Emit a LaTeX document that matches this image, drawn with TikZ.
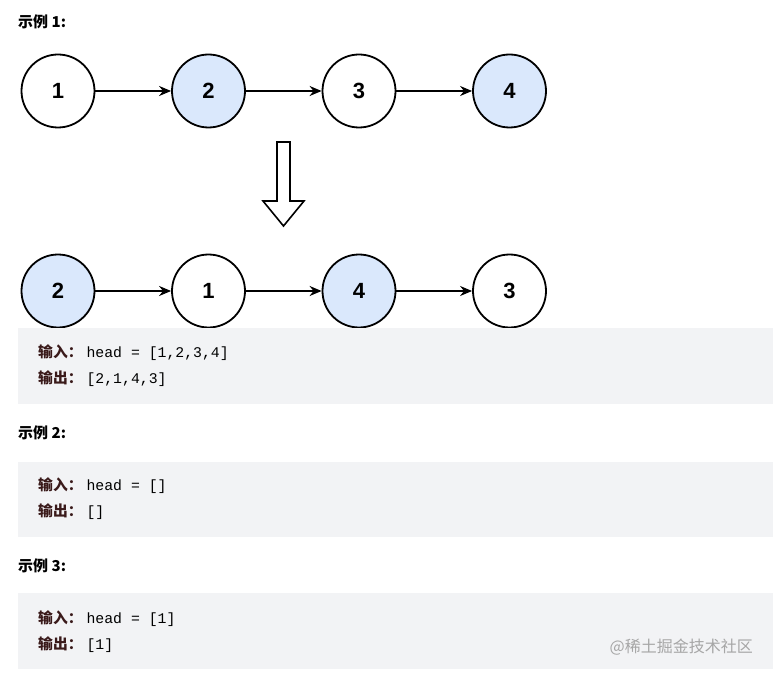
\documentclass[tikz,border=0pt]{standalone}
\usepackage{fontspec}
\setmainfont{Liberation Sans}
\setmonofont{Liberation Mono}
\newfontfamily\cjk{Noto Sans CJK SC}
\usetikzlibrary{positioning,arrows.meta}
\definecolor{nodeblue}{HTML}{DAE8FC}
\definecolor{codebg}{HTML}{F2F3F5}
\definecolor{inkred}{HTML}{3A1A1A}
\tikzset{
  lnode/.style={circle,draw,line width=1.8pt,minimum size=73pt,inner sep=0pt,
    font=\fontsize{22}{22}\selectfont\bfseries},
  hl/.style={lnode,fill=nodeblue},
  link/.style={-{Stealth[length=12pt,width=10pt]},line width=1.5pt},
  title/.style={anchor=west,font=\cjk\fontsize{15}{17}\selectfont\bfseries,inner sep=0pt},
  code/.style={anchor=west,inner sep=0pt,font=\fontsize{14.8}{17}\selectfont\ttfamily},
  box/.style={fill=codebg,draw=none}
}
\newcommand{\kw}[1]{{\cjk\bfseries\color{inkred}#1}\hspace{4pt}}
\begin{document}
\begin{tikzpicture}[x=1pt,y=-1pt]
\useasboundingbox[fill=white] (0,0) rectangle (773,676);
% example 1
\node[title] (t1) at (18,22) {示例 1:};
\node[lnode] (a1) at (58,91) {1};
\node[hl,right=75.7pt of a1] (a2) {2};
\node[lnode,right=75.7pt of a2] (a3) {3};
\node[hl,right=75.7pt of a3] (a4) {4};
\draw[link] (a1) -- (a2);
\draw[link] (a2) -- (a3);
\draw[link] (a3) -- (a4);
% block arrow
\draw[line width=1.6pt,fill=white] (277,142) -- (290,142) -- (290,201) -- (304,201)
  -- (283.5,226) -- (263,201) -- (277,201) -- cycle;
\node[hl] (b1) at (58,291) {2};
\node[lnode,right=75.7pt of b1] (b2) {1};
\node[hl,right=75.7pt of b2] (b3) {4};
\node[lnode,right=75.7pt of b3] (b4) {3};
\draw[link] (b1) -- (b2);
\draw[link] (b2) -- (b3);
\draw[link] (b3) -- (b4);
\fill[box] (18,328) rectangle (773,404);
\node[code] (in1) at (38,353) {\kw{输入：}head = [1,2,3,4]};
\node[code] (out1) at (38,379) {\kw{输出：}[2,1,4,3]};
% example 2
\node[title] (t2) at (18,433) {示例 2:};
\fill[box] (18,462) rectangle (773,537);
\node[code] (in2) at (38,486) {\kw{输入：}head = []};
\node[code] (out2) at (38,512) {\kw{输出：}[]};
% example 3
\node[title] (t3) at (18,566) {示例 3:};
\fill[box] (18,593) rectangle (773,669);
\node[code] (in3) at (38,619) {\kw{输入：}head = [1]};
\node[code] (out3) at (38,645) {\kw{输出：}[1]};
\node[anchor=east,inner sep=0pt,text=gray!70,font=\cjk\fontsize{16}{18}\selectfont]
  (wm) at (753,647) {@稀土掘金技术社区};
\end{tikzpicture}
\end{document}
